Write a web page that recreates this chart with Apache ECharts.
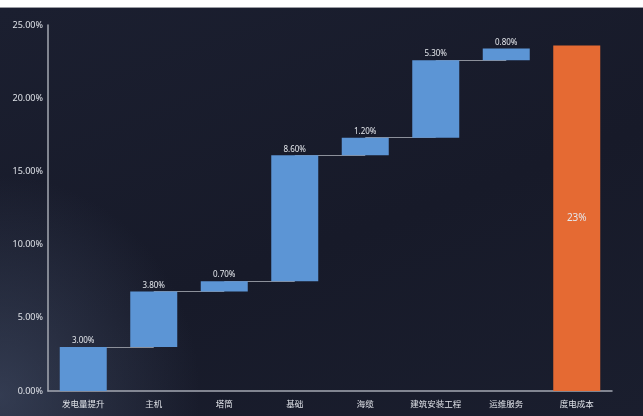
<!DOCTYPE html>
<html>
<head>
<meta charset="utf-8">
<script src="https://cdn.jsdelivr.net/npm/echarts@6/dist/echarts.min.js"></script>
<style>
    html, body { margin: 0; padding: 0; background: #ffffff; }
    #chartHolder {
        position: absolute;
        left: 0;
        top: 7px;
        width: 643px;
        height: 409px;
        border-top: 1px solid #9a9ca3;
        box-sizing: border-box;
        background:
            radial-gradient(ellipse 200px 220px at 0% 95%, rgba(70, 82, 108, 0.6), rgba(70, 82, 108, 0) 100%),
            linear-gradient(160deg, #1b1f30 0%, #171a29 55%, #1a1e2e 100%);
    }
</style>
</head>
<body>
<div id="chartHolder"></div>
<script>
var categories = ['发电量提升', '主机', '塔筒', '基础', '海缆', '建筑安装工程', '运维服务', '度电成本'];
var stepValues = [3.0, 3.8, 0.7, 8.6, 1.2, 5.3, 0.8];
var totalValue = 23.6;
var totalLabel = '23%';
var yTicks = { min: 0, max: 25, interval: 5 };

// running totals for the invisible base of each step
var baseValues = [];
var levels = [];
var running = 0;
stepValues.forEach(function (v) {
    baseValues.push(running);
    running = Math.round((running + v) * 100) / 100;
    levels.push(running);
});
baseValues.push('-');

var stepData = stepValues.map(function (v) { return v; });
stepData.push({
    value: totalValue,
    itemStyle: { color: '#e56a33' },
    label: { position: 'inside', fontSize: 10, formatter: totalLabel }
});

// connectors between consecutive steps
var connectors = [];
for (var i = 0; i < levels.length - 1; i++) {
    connectors.push([
        { xAxis: i, yAxis: levels[i] },
        { xAxis: i + 1, yAxis: levels[i] }
    ]);
}

var chart = echarts.init(document.getElementById('chartHolder'));
chart.setOption({
    backgroundColor: 'transparent',
    animation: false,
    grid: { left: 48, right: 31, top: 17, bottom: 25 },
    xAxis: {
        type: 'category',
        data: categories,
        axisLine: { lineStyle: { color: '#a4a8b2', width: 1.5 } },
        axisTick: { show: false },
        axisLabel: {
            interval: 0,
            color: '#dfe2e8',
            fontSize: 8.5,
            margin: 9,
            fontFamily: 'Noto Sans CJK SC'
        }
    },
    yAxis: {
        type: 'value',
        min: yTicks.min,
        max: yTicks.max,
        interval: yTicks.interval,
        axisLine: { show: true, lineStyle: { color: '#a4a8b2', width: 1.5 } },
        axisTick: { show: false },
        splitLine: { show: false },
        axisLabel: {
            color: '#dfe2e8',
            fontSize: 9,
            margin: 5,
            fontFamily: 'Noto Sans',
            formatter: function (v) { return v.toFixed(2) + '%'; }
        }
    },
    series: [
        {
            type: 'line',
            data: [],
            z: 1,
            silent: true,
            markLine: {
                z: 1,
                symbol: ['none', 'none'],
                label: { show: false },
                lineStyle: { color: '#8c909a', width: 1, type: 'solid' },
                data: connectors
            }
        },
        {
            type: 'bar',
            stack: 'fall',
            barWidth: 47,
            z: 3,
            itemStyle: { color: 'transparent' },
            data: baseValues
        },
        {
            type: 'bar',
            stack: 'fall',
            barWidth: 47,
            z: 3,
            itemStyle: { color: '#5c95d5' },
            label: {
                show: true,
                position: 'top',
                distance: 2,
                color: '#e4e7ec',
                fontSize: 8,
                fontFamily: 'Noto Sans',
                formatter: function (p) { return p.value.toFixed(2) + '%'; }
            },
            data: stepData
        }
    ]
});
</script>
</body>
</html>
